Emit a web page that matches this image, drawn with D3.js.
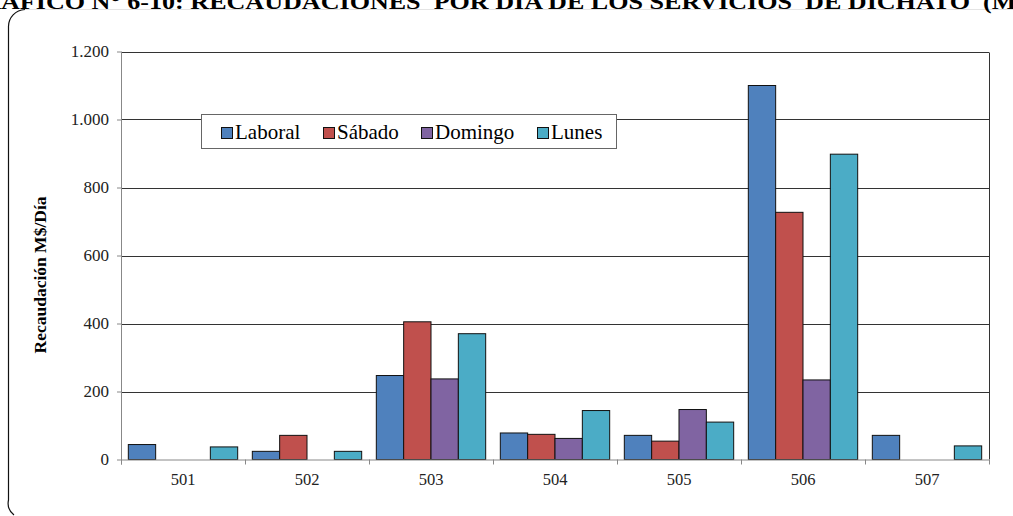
<!DOCTYPE html>
<html><head><meta charset="utf-8">
<script src="https://cdn.jsdelivr.net/npm/d3@7"></script>
<style>body{margin:0;background:#fff;} svg{display:block;}</style>
</head><body>
<svg id="c" width="1013" height="516"></svg>
<script>
const categories = ["501","502","503","504","505","506","507"];
const seriesNames = ["Laboral","Sábado","Domingo","Lunes"];
const laboral = [44, 24, 247, 78, 71, 1100, 71];
const sabado  = [0, 71, 405, 74, 54, 727, 0];
const domingo = [0, 0, 237, 62, 147, 234, 0];
const lunes   = [37, 24, 370, 144, 110, 898, 40];
const seriesColors = ["#4F81BD","#C0504D","#8064A2","#4BACC6"];
const yTicks = [0,200,400,600,800,1000,1200];
const titleText = "GRÁFICO N° 6-10: RECAUDACIONES  POR DIA DE LOS SERVICIOS  DE DICHATO  (M$)";
const yLabel = "Recaudación M$/Día";

const seriesValues = [laboral, sabado, domingo, lunes];
const data = categories.map((c,i)=>({cat:c, vals: seriesNames.map((s,j)=>({key:s, value: seriesValues[j][i], color: seriesColors[j]}))}));

const svg = d3.select("#c");
const serif = "'Liberation Serif','Times New Roman',serif";
const L = 121, R = 989, T = 51.5, B = 459.5;

const locale = d3.formatLocale({decimal:",", thousands:".", grouping:[3], currency:["$",""]});
const fmt = locale.format(",d");

const x0 = d3.scaleBand().domain(categories).range([L,R]).paddingInner(0.118).paddingOuter(0.059);
const x1 = d3.scaleBand().domain(seriesNames).range([0,x0.bandwidth()]).padding(0);
const y = d3.scaleLinear().domain([0,1200]).range([B,T]);

// outer rounded frame
svg.append("path")
  .attr("d", `M 25 9.5 A 17 17 0 0 0 8.5 27 L 8.5 500 A 15 15 0 0 0 14 515`)
  .attr("fill","none").attr("stroke","#111").attr("stroke-width",1.2);
svg.append("line").attr("x1",25).attr("x2",1013).attr("y1",9.5).attr("y2",9.5)
  .attr("stroke","#e4e4e4").attr("stroke-width",1);

// title (clipped at top), stretched horizontally like the source
const title = svg.append("text")
  .attr("y", 9).attr("font-family", serif).attr("font-weight","bold")
  .attr("font-size", 20).attr("fill","#000")
  .style("white-space","pre").text(titleText);
const tn = title.node();
const fullW = tn.getComputedTextLength();
const grW = tn.getSubStringLength(0,2);
const parenIdx = titleText.indexOf("(");
const toParen = tn.getSubStringLength(0,parenIdx);
const k = 982 / (toParen - grW);
title.attr("textLength", fullW*k).attr("lengthAdjust","spacingAndGlyphs").attr("x", -grW*k + 1);

// gridlines
svg.append("g").selectAll("line").data(yTicks.filter(d=>d>0)).join("line")
  .attr("x1",L).attr("x2",R).attr("y1",d=>Math.round(y(d))+0.5).attr("y2",d=>Math.round(y(d))+0.5)
  .attr("stroke","#333").attr("stroke-width",1);
// right border
svg.append("line").attr("x1",R+0.5).attr("x2",R+0.5).attr("y1",Math.round(T)+0.5).attr("y2",B)
  .attr("stroke","#333");

// bars
const g = svg.append("g");
g.selectAll("g").data(data).join("g")
  .attr("transform", d=>`translate(${x0(d.cat)},0)`)
  .selectAll("rect").data(d=>d.vals).join("rect")
  .attr("x", d=>x1(d.key)).attr("width", x1.bandwidth())
  .attr("y", d=>y(d.value)).attr("height", d=>B - y(d.value))
  .attr("fill", d=>d.color).attr("stroke","#111").attr("stroke-width",1);

// y axis
const yAxis = svg.append("g").attr("transform",`translate(${L},0)`)
  .call(d3.axisLeft(y).tickValues(yTicks).tickFormat(fmt).tickSizeOuter(0).tickSize(4).tickPadding(8));
yAxis.select(".domain").remove();
yAxis.append("line").attr("x1",0.5).attr("x2",0.5).attr("y1",T).attr("y2",B+5).attr("stroke","#888");
yAxis.selectAll(".tick line").attr("stroke","#888");
yAxis.selectAll("text").attr("font-family",serif).attr("font-size",17).attr("fill","#222");

// x axis
const xAxis = svg.append("g").attr("transform",`translate(0,${B})`)
  .call(d3.axisBottom(x0).tickSize(0).tickPadding(14));
xAxis.select(".domain").remove();
xAxis.append("line").attr("x1",L).attr("x2",R).attr("y1",0.5).attr("y2",0.5).attr("stroke","#888");
xAxis.selectAll(".tick text").attr("font-family",serif).attr("font-size",16.5).attr("fill","#222");
const edges = categories.map(c=>x0(c) - x0.step()*x0.paddingInner()/2).concat([R]);
xAxis.append("g").selectAll("line").data(edges).join("line")
  .attr("x1",d=>Math.round(d)+0.5).attr("x2",d=>Math.round(d)+0.5).attr("y1",0).attr("y2",5).attr("stroke","#888");

// y label
svg.append("text").attr("transform","translate(46,275) rotate(-90)")
  .attr("text-anchor","middle").attr("font-family",serif).attr("font-weight","bold")
  .attr("font-size",17.5).attr("fill","#000").text(yLabel);

// legend
const lg = svg.append("g");
lg.append("rect").attr("x",201.5).attr("y",114.5).attr("width",415).attr("height",34)
  .attr("fill","#fff").attr("stroke","#666").attr("stroke-width",1);
const legendX = [221, 323, 421, 537];
const items = lg.selectAll("g").data(seriesNames).join("g")
  .attr("transform",(d,i)=>`translate(${legendX[i]},0)`);
items.append("rect").attr("x",0.5).attr("y",127.5).attr("width",11).attr("height",11)
  .attr("fill",(d,i)=>seriesColors[i]).attr("stroke","#111");
items.append("text").attr("x",14).attr("y",139).attr("font-family",serif).attr("font-size",21)
  .attr("fill","#000").text(d=>d);
</script>
</body></html>
